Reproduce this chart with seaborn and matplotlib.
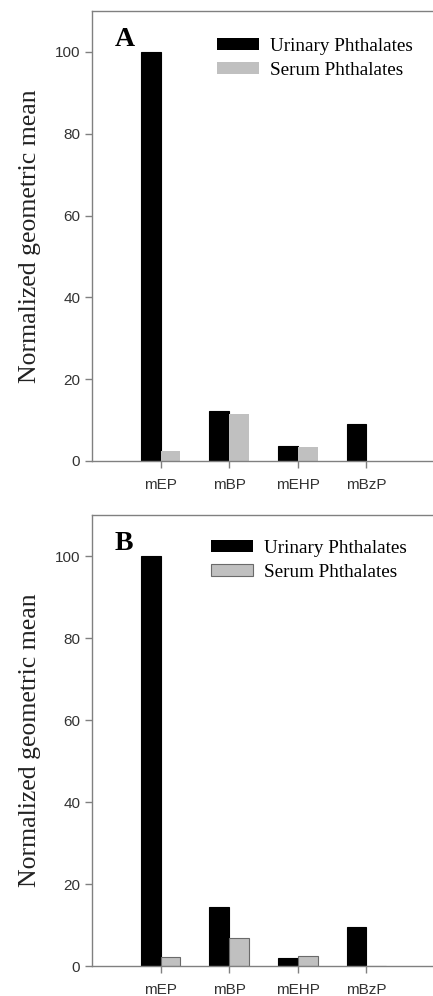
#normalized geometric means, urinary vs serum phthalates

import numpy as np
import pandas as pd
import matplotlib
matplotlib.use('Agg')
import matplotlib.pyplot as plt
import seaborn as sns

metabolites = ['mEP', 'mBP', 'mEHP', 'mBzP']
series_names = ['Urinary Phthalates', 'Serum Phthalates']

urinary_a = [100, 12.2, 3.7, 9.0]
serum_a = [2.5, 11.4, 3.5, 0]
urinary_b = [100, 14.4, 1.95, 9.6]
serum_b = [2.2, 6.8, 2.45, 0]

y_ticks = [0, 20, 40, 60, 80, 100]
panel_letters = ['A', 'B']

SPINE = '#808080'
GRAY = '#c0c0c0'


def make_frame(urinary, serum):
    rows = []
    for name, vals in zip(series_names, [urinary, serum]):
        for m, v in zip(metabolites, vals):
            rows.append({'metabolite': m, 'series': name, 'value': v})
    return pd.DataFrame(rows)


def draw_panel(ax, df, letter, outline_serum, leg_anchor):
    sns.barplot(data=df, x='metabolite', y='value', hue='series',
                order=metabolites, hue_order=series_names,
                palette=['black', GRAY], width=0.58, gap=0,
                errorbar=None, saturation=1, ax=ax)
    for bar in ax.containers[0]:
        bar.set_edgecolor('black')
        bar.set_linewidth(0.8)
    for bar in ax.containers[1]:
        if outline_serum:
            bar.set_edgecolor('#6a6a6a')
            bar.set_linewidth(0.8)
        else:
            bar.set_edgecolor(GRAY)
            bar.set_linewidth(0)
    ax.set_xlim(-1, 4)
    ax.set_ylim(0, 110)
    ax.set_yticks(y_ticks)
    ax.set_xlabel('')
    ax.set_ylabel('Normalized geometric mean', family='Liberation Serif',
                  fontsize=18.5, color='#222222', labelpad=10)
    for side in ['left', 'top', 'bottom', 'right']:
        ax.spines[side].set_color(SPINE)
        ax.spines[side].set_linewidth(1)
    ax.tick_params(axis='both', colors=SPINE, labelcolor='#333333',
                   labelsize=11, length=5, width=1)
    ax.tick_params(axis='x', pad=7)
    for lbl in ax.get_xticklabels() + ax.get_yticklabels():
        lbl.set_family('Liberation Sans')
    ax.text(0.067, 0.965, letter, transform=ax.transAxes, ha='left', va='top',
            family='Liberation Serif', fontweight='bold', fontsize=20)
    handles, labels = ax.get_legend_handles_labels()
    if outline_serum:
        handles[1].set_edgecolor('#6a6a6a')
        handles[1].set_linewidth(0.8)
    else:
        handles[1].set_linewidth(0)
    ax.legend(handles, labels, loc='upper left', bbox_to_anchor=leg_anchor,
              frameon=False, prop={'family': 'Liberation Serif', 'size': 13.8},
              handlelength=2.2, handleheight=0.6, handletextpad=0.55,
              labelspacing=0.35, borderpad=0, borderaxespad=0)


def main():
    fig = plt.figure(figsize=(4.33, 9.96), dpi=100)
    ax_a = fig.add_axes([92 / 433, 1 - 461 / 996, 343 / 433, 450 / 996])
    ax_b = fig.add_axes([92 / 433, 1 - 966 / 996, 343 / 433, 451 / 996])
    draw_panel(ax_a, make_frame(urinary_a, serum_a), panel_letters[0], False,
               (0.364, 0.94))
    draw_panel(ax_b, make_frame(urinary_b, serum_b), panel_letters[1], True,
               (0.347, 0.945))
    fig.savefig('out.png', dpi=100)


if __name__ == '__main__':
    main()
